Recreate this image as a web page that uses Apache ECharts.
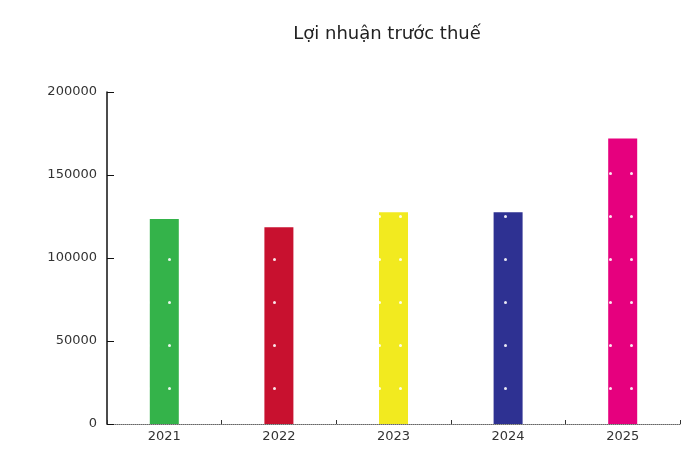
<!DOCTYPE html>
<html>
<head>
<meta charset="utf-8">
<script src="https://cdn.jsdelivr.net/npm/echarts@6/dist/echarts.min.js"></script>
<style>
    html, body {margin: 0; padding: 0; background: #fff;}
    #chart {width: 692px; height: 452px;}
</style>
</head>
<body>
<div id="chart"></div>
<script>
let years = ['2021', '2022', '2023', '2024', '2025'];
let profit = [123500, 118500, 127500, 127500, 172000];
let barColors = ['#34b34a', '#c8112f', '#f2ea1f', '#2e3192', '#e6007e'];
let yTicks = [0, 50000, 100000, 150000, 200000];

let myChart = echarts.init(document.getElementById('chart'));
myChart.setOption({
    animation: false,
    title: {
        text: 'Lợi nhuận trước thuế',
        left: 382,
        textAlign: 'center',
        top: 20,
        textStyle: {fontFamily: 'DejaVu Sans', fontSize: 18, fontWeight: 'normal', color: '#222'}
    },
    grid: {left: 107, right: 12, top: 92, bottom: 28},
    xAxis: {
        type: 'category',
        data: years,
        axisLine: {lineStyle: {color: '#666', type: 'dotted', width: 1}},
        axisTick: {show: true, inside: true, length: 4, lineStyle: {color: '#333'}},
        axisLabel: {fontFamily: 'DejaVu Sans', fontSize: 13, color: '#333', margin: 6}
    },
    yAxis: {
        type: 'value',
        min: yTicks[0],
        max: yTicks[yTicks.length - 1],
        interval: yTicks[1] - yTicks[0],
        splitLine: {show: false},
        axisLine: {show: true, lineStyle: {color: '#111', width: 1.5}},
        axisTick: {show: true, inside: true, length: 7, lineStyle: {color: '#111'}},
        axisLabel: {
            fontFamily: 'DejaVu Sans', fontSize: 13, color: '#333', margin: 10,
            formatter: v => String(v)
        }
    },
    series: [{
        type: 'bar',
        barWidth: 29,
        data: profit.map((v, i) => ({
            value: v,
            itemStyle: {
                color: barColors[i],
                decal: {
                    symbol: 'circle',
                    symbolSize: 1,
                    color: 'rgba(255,255,255,0.9)',
                    dashArrayX: [[3, 18]],
                    dashArrayY: [3, 40],
                    rotation: 0
                }
            }
        }))
    }]
});
</script>
</body>
</html>
